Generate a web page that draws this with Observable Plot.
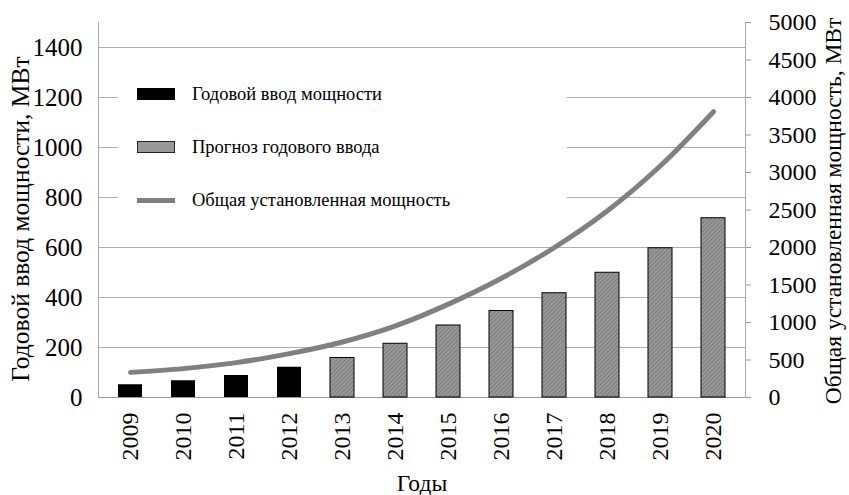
<!DOCTYPE html>
<html>
<head>
<meta charset="utf-8">
<script src="https://cdn.jsdelivr.net/npm/d3@7"></script>
<script src="https://cdn.jsdelivr.net/npm/@observablehq/plot@0.6"></script>
<style>
  html, body { margin: 0; padding: 0; background: #fff; }
  #wrap { position: relative; width: 849px; height: 495px; font-family: "Liberation Serif", "DejaVu Serif", serif; }
  #wrap svg, #wrap svg text { font-family: "Liberation Serif", "DejaVu Serif", serif !important; }
  #legend { position: absolute; left: 118px; top: 66px; width: 449px; height: 162px; background: #fff; font-size: 18.5px; color: #000; font-family: "Liberation Serif", "DejaVu Serif", serif; }
  .sw { position: absolute; left: 19px; width: 38px; box-sizing: border-box; }
  .lbl { position: absolute; left: 74px; white-space: nowrap; line-height: 20px; }
</style>
</head>
<body>
<div id="wrap"></div>
<script>
const years = ["2009","2010","2011","2012","2013","2014","2015","2016","2017","2018","2019","2020"];
const annual = [51, 67, 88, 121, 158, 215, 288, 346, 417, 499, 597, 717];
const kind = ["fact","fact","fact","fact","forecast","forecast","forecast","forecast","forecast","forecast","forecast","forecast"];
const total = [335, 385, 465, 585, 740, 955, 1245, 1590, 2000, 2490, 3090, 3810];
const leftTicks = [0, 200, 400, 600, 800, 1000, 1200, 1400];
const rightTicks = [0, 500, 1000, 1500, 2000, 2500, 3000, 3500, 4000, 4500, 5000];
const legendLabels = ["Годовой ввод мощности", "Прогноз годового ввода", "Общая установленная мощность"];
const yLabel = "Годовой ввод мощности, МВт";
const y2Label = "Общая установленная мощность, МВт";
const xLabel = "Годы";

const leftMax = 1500, rightMax = 5000;
const k = leftMax / rightMax;
const FF = "'Liberation Serif', 'DejaVu Serif', serif";

const data = years.map((y, i) => ({year: y, annual: annual[i], kind: kind[i], total: total[i]}));

const chart = Plot.plot({
  width: 849,
  height: 495,
  marginLeft: 98,
  marginRight: 104,
  marginTop: 22,
  marginBottom: 98,
  style: "font-family: " + FF + "; background: #fff; color: #000;",
  x: {domain: years, paddingInner: 0.54, paddingOuter: 0.27, axis: null},
  y: {domain: [0, leftMax], axis: null},
  marks: [
    Plot.ruleY(leftTicks.filter(d => d > 0), {stroke: "#b0b0b0", strokeWidth: 1}),
    Plot.frame({anchor: "left", stroke: "#aaa"}),
    Plot.frame({anchor: "right", stroke: "#aaa"}),
    Plot.ruleY([0], {stroke: "#999", strokeWidth: 1.2}),
    Plot.barY(data.filter(d => d.kind === "fact"), {x: "year", y: "annual", fill: "#000"}),
    Plot.barY(data.filter(d => d.kind === "forecast"), {x: "year", y: "annual", fill: "url(#hatch)", stroke: "#000", strokeWidth: 1}),
    Plot.line(data, {x: "year", y: d => d.total * k, stroke: "#808080", strokeWidth: 5, curve: "catmull-rom"}),
    Plot.axisY({anchor: "left", ticks: leftTicks, tickFormat: d => String(d), tickSize: 0, tickPadding: 16, fontSize: 25, fontFamily: FF, label: null}),
    Plot.axisY({anchor: "right", ticks: rightTicks.map(v => v * k), tickFormat: d => String(Math.round(d / k)), tickSize: 5, tickPadding: 18, fontSize: 24, fontFamily: FF, label: null, stroke: "#999"}),
    Plot.axisX({ticks: years, tickSize: 0, tickPadding: 15, tickRotate: -90, fontSize: 24, fontFamily: FF, label: null}),
    Plot.text([yLabel], {frameAnchor: "left", dx: -78, dy: 9, rotate: -90, textAnchor: "middle", lineAnchor: "middle", fontSize: 25.5, fontFamily: FF, fill: "#000"}),
    Plot.text([y2Label], {frameAnchor: "right", dx: 88, dy: 1, rotate: -90, textAnchor: "middle", lineAnchor: "middle", fontSize: 23.5, fontFamily: FF, fill: "#000"}),
    Plot.text([xLabel], {frameAnchor: "bottom", dy: 86, textAnchor: "middle", lineAnchor: "middle", fontSize: 23.5, fontFamily: FF, fill: "#000"})
  ]
});

// hatch pattern for forecast bars
const ns = "http://www.w3.org/2000/svg";
const defs = document.createElementNS(ns, "defs");
defs.innerHTML = '<pattern id="hatch" patternUnits="userSpaceOnUse" width="3" height="3" patternTransform="rotate(45)">' +
  '<rect width="3" height="3" fill="#989898"></rect><rect width="1" height="3" fill="#7c7c7c"></rect></pattern>';
chart.insertBefore(defs, chart.firstChild);

const wrap = document.getElementById("wrap");
wrap.appendChild(chart);

// legend
const legend = document.createElement("div");
legend.id = "legend";
const tops = [18, 71, 124];
const swatchStyles = [
  "background:#000; height:12px; margin-top:4px;",
  "background:#989898; border:1.5px solid #222; height:12px; margin-top:4px;",
  "background:#808080; height:5px; margin-top:8px;"
];
legendLabels.forEach((t, i) => {
  const sw = document.createElement("div");
  sw.className = "sw";
  sw.style.cssText = swatchStyles[i] + "top:" + tops[i] + "px;";
  legend.appendChild(sw);
  const lb = document.createElement("div");
  lb.className = "lbl";
  lb.style.top = tops[i] + "px";
  lb.textContent = t;
  legend.appendChild(lb);
});
wrap.appendChild(legend);
</script>
</body>
</html>
